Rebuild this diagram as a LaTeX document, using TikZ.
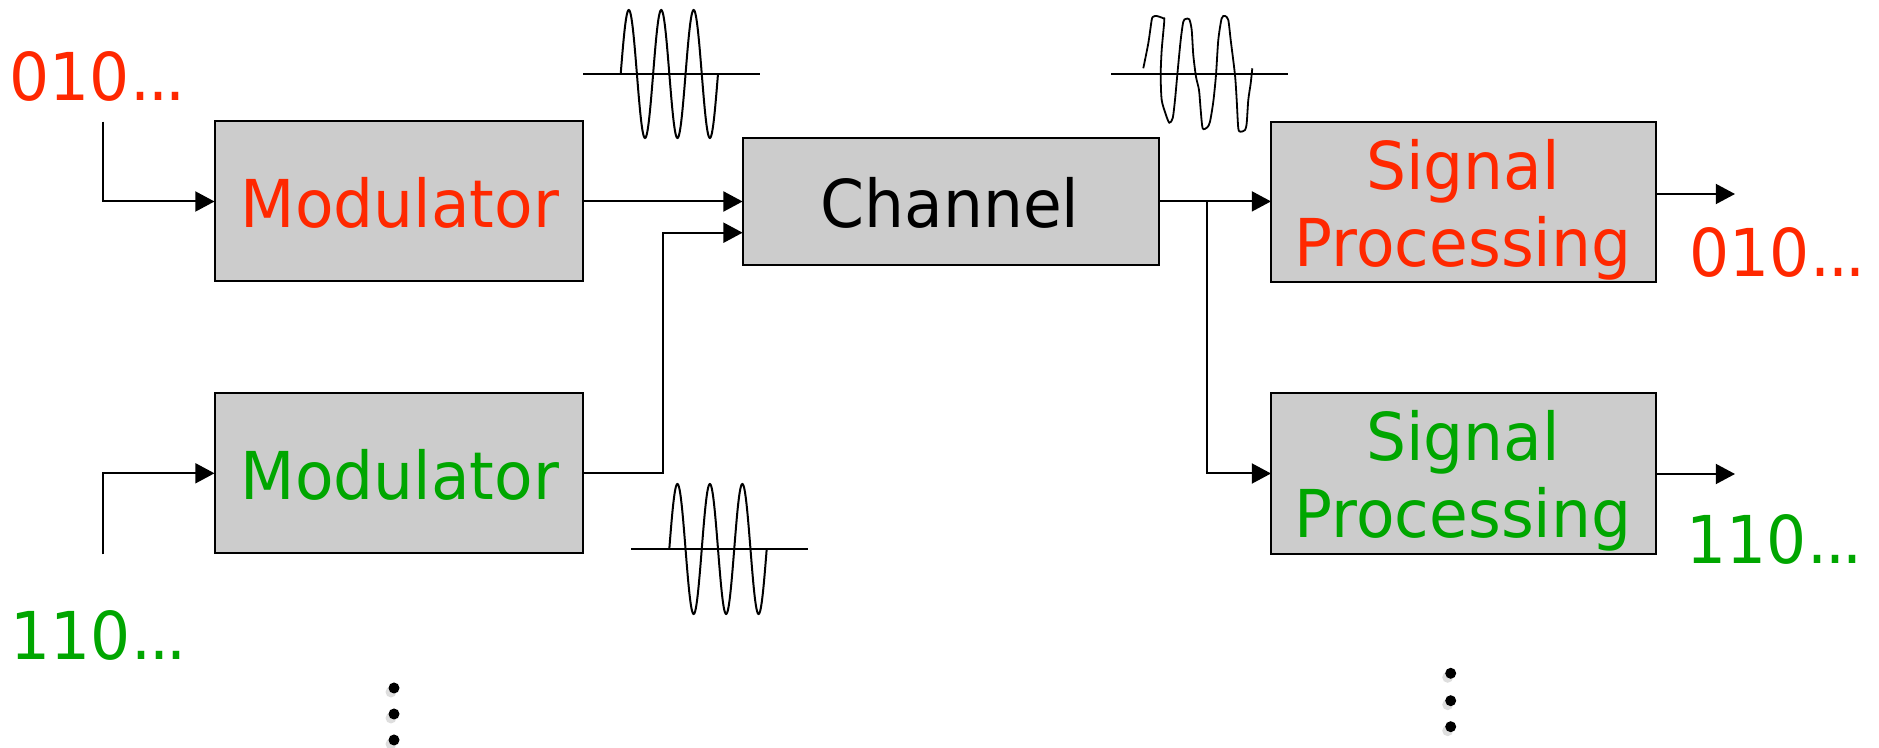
\documentclass[tikz,border=0pt]{standalone}
\usepackage{fontspec}
\setmainfont{DejaVu Sans}[FakeStretch=0.955]
\usetikzlibrary{arrows.meta}
\definecolor{tred}{RGB}{255,40,0}
\definecolor{tgreen}{RGB}{0,166,0}
\definecolor{boxgray}{RGB}{204,204,204}
\definecolor{shadowgray}{RGB}{222,222,222}
\newcommand{\myell}{\kern0.02em.\kern-0.04em.\kern-0.04em.}
\begin{document}
\begin{tikzpicture}[x=0.25pt,y=-0.25pt,
  blk/.style={draw=black, fill=boxgray, line width=0.5pt, inner sep=0pt, outer sep=0pt},
  lbl/.style={inner sep=0pt, outer sep=0pt, anchor=base, font=\fontsize{16.5pt}{20pt}\selectfont},
  bits/.style={lbl, anchor=base west},
  arr/.style={line width=0.5pt, -{Triangle[length=4.8pt,width=5pt]}},
  wave/.style={line width=0.5pt},
  dotb/.style={fill=black, draw=none},
  dots/.style={fill=shadowgray, draw=none}]
\useasboundingbox (0,0) rectangle (1879,748);

% boxes
\node[blk, minimum width=92pt, minimum height=40pt] (mod1) at (398.5,201.5) {};
\node[blk, minimum width=92pt, minimum height=40.1pt] (mod2) at (398.5,473.3) {};
\node[blk, minimum width=104.1pt, minimum height=31.75pt] (chan) at (950.8,201.4) {};
\node[blk, minimum width=96.25pt, minimum height=40pt] (sp1) at (1463.5,202.3) {};
\node[blk, minimum width=96.25pt, minimum height=40.25pt] (sp2) at (1463.5,473.5) {};

% box texts
\node[lbl, text=tred] (mod1t) at (400,228) {Modulator};
\node[lbl, text=tgreen] (mod2t) at (400,500) {Modulator};
\node[lbl, text=black] (chant) at (950,228) {Channel};
\node[lbl, text=tred] (sp1a) at (1463,190) {Signal};
\node[lbl, text=tred] (sp1b) at (1463,266.7) {Processing};
\node[lbl, text=tgreen] (sp2a) at (1463,460.7) {Signal};
\node[lbl, text=tgreen] (sp2b) at (1463,537.4) {Processing};

% bit strings
\node[bits, text=tred] (b1in) at (9,101) {010\myell};
\node[bits, text=tgreen] (b2in) at (10,659.3) {110\myell};
\node[bits, text=tred] (b1out) at (1689,276.7) {010\myell};
\node[bits, text=tgreen] (b2out) at (1686,563.3) {110\myell};

% connector coordinates
\coordinate (in1) at (103.3,121.7);
\coordinate (in2) at (103.3,554.3);
\coordinate (j2) at (663,232.7);
\coordinate (br) at (1207,201.4);
\coordinate (o1) at (1735,194);
\coordinate (o2) at (1735,474);

% connectors
\draw[arr] (in1) |- (mod1.west);
\draw[arr] (in2) |- (mod2.west);
\draw[arr] (mod1.east) -- (mod1.east -| chan.west);
\draw[arr] (mod2.east) -| (j2) -- (j2 -| chan.west);
\draw[arr] (chan.east) -- (chan.east -| sp1.west);
\draw[arr] (br) |- (sp2.west);
\draw[arr] (sp1.east |- o1) -- (o1);
\draw[arr] (sp2.east |- o2) -- (o2);

% waveforms
\draw[wave] (583,74) -- (760,74);
\draw[wave] plot[domain=0:1080, samples=181, smooth] ({620.7+\x/360*32.43},{74-64*sin(\x)});
\draw[wave] (631,549) -- (808,549);
\draw[wave] plot[domain=0:1080, samples=181, smooth] ({669.3+\x/360*32.47},{549-65*sin(\x)});
\draw[wave] (1111,74) -- (1288,74);
\draw[wave, line width=0.45pt] plot[smooth, tension=0.45] coordinates {
 (1143.3,68.3) (1148.3,43.3) (1151.7,20) (1153.3,16.7) (1156.7,16) (1163.3,18.3) (1164.3,20.7)
 (1161.7,50) (1160.7,75) (1161.7,100) (1166,115) (1169.3,122.7) (1172.7,118.3) (1175,100)
 (1177.3,75) (1180.7,40) (1183.3,21.7) (1185.7,19) (1189.3,19.3) (1191.7,30) (1193.3,55)
 (1196,76.7) (1199,90) (1200.7,110) (1202.7,128.3) (1207.3,127.3) (1210,121.7) (1213.3,101.7)
 (1216,75) (1218.3,40) (1221.7,18.3) (1225,16) (1228.3,20) (1230.7,40) (1235,75)
 (1236.7,100) (1238.3,128.3) (1240.7,131.7) (1245,130) (1246.7,123.3) (1248.3,100)
 (1250.7,83.3) (1252.3,68.3)};

% vertical ellipses
\foreach \yy in {688,714,740}{
  \fill[dots] (391,\yy+4) circle (5.5);
  \fill[dotb] (394,\yy) circle (5.5);
}
\foreach \yy in {673.3,700.7,726.7}{
  \fill[dots] (1447.7,\yy+4) circle (5.5);
  \fill[dotb] (1450.7,\yy) circle (5.5);
}
\end{tikzpicture}
\end{document}
